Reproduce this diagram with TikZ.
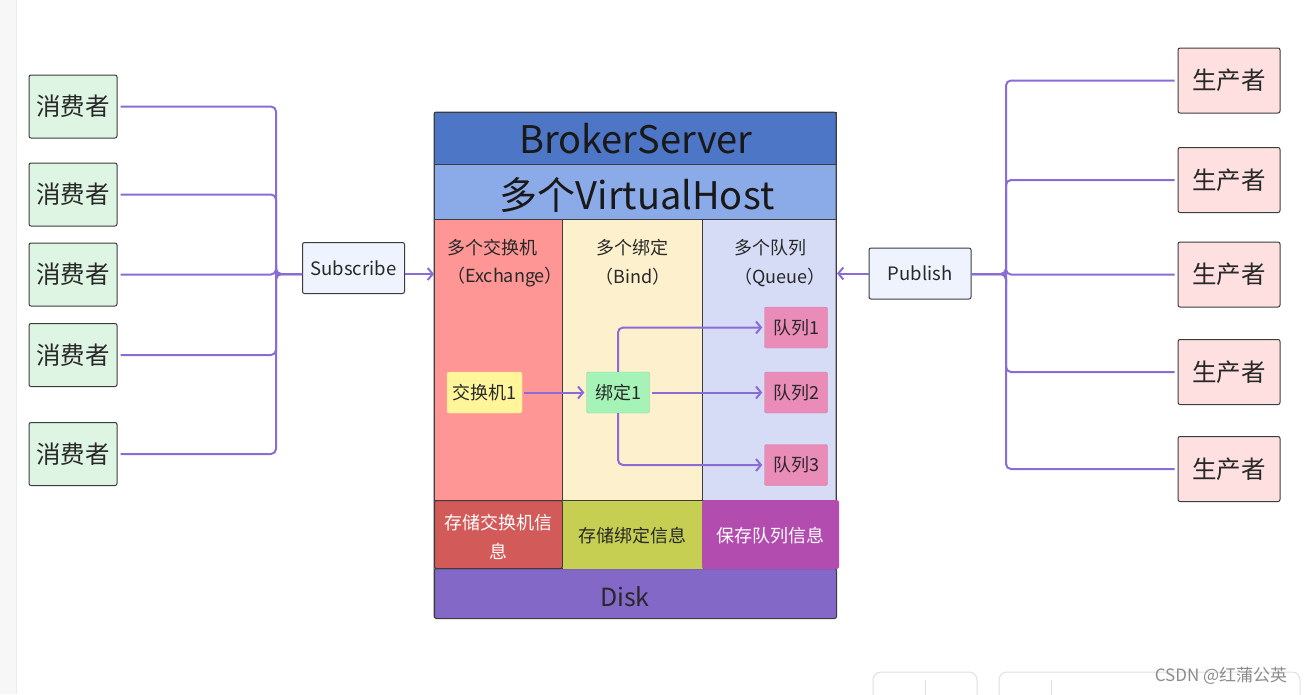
\documentclass[tikz,border=0pt]{standalone}
\usepackage{fontspec}
\setmainfont{Noto Sans CJK SC}
\usetikzlibrary{arrows.meta,calc}
\definecolor{lin}{RGB}{138,108,214}
\definecolor{txt}{RGB}{40,40,40}
\definecolor{bdr}{RGB}{60,60,60}
\definecolor{hdr}{RGB}{78,118,198}
\definecolor{vh}{RGB}{139,170,232}
\definecolor{exc}{RGB}{255,150,150}
\definecolor{bnd}{RGB}{253,240,205}
\definecolor{que}{RGB}{214,220,245}
\definecolor{sexc}{RGB}{210,90,88}
\definecolor{sbnd}{RGB}{199,207,82}
\definecolor{sque}{RGB}{178,76,175}
\definecolor{dsk}{RGB}{132,104,200}
\definecolor{exone}{RGB}{255,245,155}
\definecolor{bone}{RGB}{166,243,184}
\definecolor{qbox}{RGB}{234,140,184}
\definecolor{cons}{RGB}{222,245,227}
\definecolor{prod}{RGB}{255,224,224}
\definecolor{act}{RGB}{238,243,253}
\newcommand\fsz[2]{\fontsize{#1}{#2}\selectfont}
\tikzset{
  box/.style={draw=bdr, line width=1pt, rounded corners=2pt, inner sep=0pt, text=txt},
  consbox/.style={box, fill=cons, minimum width=88pt, minimum height=63pt, font=\fsz{24.5}{28}},
  prodbox/.style={box, fill=prod, minimum width=102pt, minimum height=65pt, font=\fsz{24.5}{28}},
  actbox/.style={box, fill=act, minimum width=102pt, minimum height=51pt, font=\fsz{18.5}{22}},
  cell/.style={draw=bdr, line width=1pt, inner sep=0pt, anchor=north west},
  inbox/.style={rounded corners=2pt, inner sep=0pt, minimum height=41pt, text=txt, font=\fsz{18}{22}},
  conn/.style={draw=lin, line width=2pt, rounded corners=5pt},
  arr/.style={conn, -{Straight Barb[length=5pt,width=12pt]}},
  lbl/.style={text=txt, inner sep=0pt, font=\fsz{18}{22}},
}
\begin{document}
\begin{tikzpicture}[x=1pt,y=-1pt]
\useasboundingbox (0,0) rectangle (1304,694);
\fill[white] (0,0) rectangle (1304,694);
% left panel edge
\fill[black!3] (0,0) rectangle (16,694);
\draw[black!8, line width=1pt] (16,0) -- (16,694);

% consumers
\node[consbox] (c1) at (73,106.5) {消费者};
\node[consbox] (c2) at (73,194.5) {消费者};
\node[consbox] (c3) at (73,274.5) {消费者};
\node[consbox] (c4) at (73,355) {消费者};
\node[consbox] (c5) at (73,454) {消费者};
\node[actbox] (sub) at (353.5,268) {Subscribe};
\coordinate (tl) at (276,274);

% producers
\node[prodbox] (p1) at (1229,80.5) {生产者};
\node[prodbox] (p2) at (1229,180) {生产者};
\node[prodbox] (p3) at (1229,274.5) {生产者};
\node[prodbox] (p4) at (1229,372) {生产者};
\node[prodbox] (p5) at (1229,469) {生产者};
\node[actbox] (pub) at (920,273.5) {Publish};
\coordinate (tr) at (1006,274);

% broker
\node[cell, fill=hdr, minimum width=402pt, minimum height=52pt] (hd) at (434,112) {};
\node[cell, fill=vh, minimum width=402pt, minimum height=55pt] (vhb) at (434,164) {};
\node[cell, fill=exc, minimum width=128pt, minimum height=281pt] (ec) at (434,219) {};
\node[cell, fill=bnd, minimum width=140pt, minimum height=281pt] (bc) at (562,219) {};
\node[cell, fill=que, minimum width=134pt, minimum height=281pt] (qc) at (702,219) {};
\path (434,112) coordinate (bnw) (836,618) coordinate (bse);
\draw[bdr, line width=1pt, rounded corners=2pt] (bnw) rectangle (bse);
\node[cell, fill=dsk, minimum width=402pt, minimum height=50pt, rounded corners=2pt] (disk) at (434,568) {};
\node[cell, fill=sexc, minimum width=128pt, minimum height=68pt, rounded corners=2pt] (se) at (434,500) {};
\node[cell, draw=none, fill=sbnd, minimum width=140pt, minimum height=68pt] (sb) at (562,500) {};
\node[cell, draw=sque, fill=sque, minimum width=136pt, minimum height=68pt, rounded corners=2pt] (sq) at (702,500) {};

\node[text=black!90, inner sep=0pt, font=\fsz{38}{44}] (tbs) at (636,139) {BrokerServer};
\node[text=black!90, inner sep=0pt, font=\fsz{38}{44}] (tvh) at (637,195) {多个VirtualHost};

\node[lbl, anchor=west] (t1a) at (447,248) {多个交换机};
\node[lbl, anchor=west] (t1b) at (447,277) {（Exchange）};
\node[lbl] (t2a) at (632,248) {多个绑定};
\node[lbl] (t2b) at (633,277) {（Bind）};
\node[lbl] (t3a) at (770,248) {多个队列};
\node[lbl] (t3b) at (780,277) {（Queue）};

\node[inbox, fill=exone, draw=exone!85!orange, minimum width=75pt] (ex1) at (484.5,392.5) {交换机1};
\node[inbox, fill=bone, draw=bone!85!black, minimum width=63pt] (b1) at (618,392.5) {绑定1};
\node[inbox, fill=qbox, draw=qbox!90!black, minimum width=63pt] (q1) at (796,327.5) {队列1};
\node[inbox, fill=qbox, draw=qbox!90!black, minimum width=63pt] (q2) at (796,392.5) {队列2};
\node[inbox, fill=qbox, draw=qbox!90!black, minimum width=63pt] (q3) at (796,465) {队列3};

\node[text=white, inner sep=0pt, align=center, font=\fsz{18}{29}] (tse) at (498,537) {存储交换机信\\息};
\node[lbl] (tsb) at (632,536) {存储绑定信息};
\node[text=white, inner sep=0pt, font=\fsz{18}{22}] (tsq) at (770,536) {保存队列信息};
\node[text=txt, inner sep=0pt, font=\fsz{25}{30}] (tdk) at (625,597) {Disk};

% connectors left
\foreach \c in {c1,c2,c3,c4,c5}{
  \draw[conn, shorten <=3pt] (\c.east) -| (tl) -- (sub.west |- tl);
}
\draw[arr] (sub.east |- tl) -- (hd.west |- tl);
% connectors right
\foreach \p in {p1,p2,p3,p4,p5}{
  \draw[conn, shorten <=3pt] (\p.west) -| (tr) -- (pub.east |- tr);
}
\draw[arr] (pub.west) -- (hd.east |- pub.west);
% inner connectors
\draw[arr, shorten <=2pt, shorten >=2pt] (ex1.east) -- (b1.west);
\draw[arr, shorten <=2pt, shorten >=2pt] (b1.east) -- (q2.west);
\draw[arr, shorten >=2pt] (b1.north) |- (q1.west);
\draw[arr, shorten >=2pt] (b1.south) |- (q3.west);

% watermark / toolbar
\draw[black!12, line width=1pt, rounded corners=8pt] (873,700) |- (977,672) -- (977,700);
\draw[black!12, line width=1pt] (925,680) -- (925,700);
\draw[black!12, line width=1pt, rounded corners=8pt] (999,700) |- (1300,672) -- (1300,700);
\draw[black!12, line width=1pt] (1051,680) -- (1051,700);
\node[text=black!45, inner sep=0pt, font=\fsz{17}{20}] (wm) at (1221,676) {CSDN @红蒲公英};
\end{tikzpicture}
\end{document}
